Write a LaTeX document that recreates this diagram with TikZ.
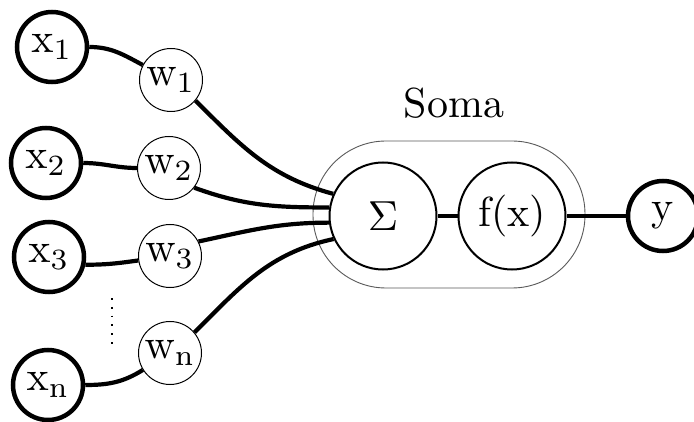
\documentclass[tikz,border=0pt]{standalone}
\usepackage{graphicx}
\newcommand{\bigt}[1]{\scalebox{4.2}{#1}}
\begin{document}
\begin{tikzpicture}[x=1pt,y=1pt,
  txt/.style={inner sep=0pt},
  inp/.style={txt, circle, draw, line width=4.5pt, minimum size=70pt},
  wgt/.style={txt, circle, draw, line width=1pt, minimum size=63pt},
  core/.style={txt, circle, draw, line width=2pt, minimum size=107pt},
  wire/.style={line width=4.2pt},
  somabox/.style={draw=black!65, line width=0.9pt, rounded corners=73pt, minimum width=272pt, minimum height=147pt, inner sep=0pt},
  vdots/.style={line width=1.8pt, dash pattern=on 1.8pt off 7pt}
]
\useasboundingbox (0,0) rectangle (694,421);
% soma
\node[somabox] (soma) at (449,206.5) {};
\node[txt] (somalabel) at (454,318) {\bigt{Soma}};
% inputs
\node[inp] (x1) at (52,374) {\bigt{$\mathrm{x}_1$}};
\node[inp] (x2) at (46,258) {\bigt{$\mathrm{x}_2$}};
\node[inp] (x3) at (49,164) {\bigt{$\mathrm{x}_3$}};
\node[inp] (xn) at (48,36) {\bigt{$\mathrm{x}_\mathrm{n}$}};
% weights
\node[wgt] (w1) at (171,341) {\bigt{$\mathrm{w}_1$}};
\node[wgt] (w2) at (169,253) {\bigt{$\mathrm{w}_2$}};
\node[wgt] (w3) at (170,165) {\bigt{$\mathrm{w}_3$}};
\node[wgt] (wn) at (170,68) {\bigt{$\mathrm{w}_\mathrm{n}$}};
% core
\node[core] (sigma) at (383,205) {\bigt{$\Sigma$}};
\node[core] (fx) at (512,205) {\bigt{f(x)}};
\node[inp] (y) at (663,205) {\bigt{y}};
% dots
\coordinate (dtop) at (112,123);
\coordinate (dbot) at (112,77);
\draw[vdots] (dtop) -- (dbot);
% connectors
\draw[wire] (x1) to[out=0,in=152] (w1);
\draw[wire] (x2) to[out=0,in=180] (w2);
\draw[wire] (x3.-12) to[out=0,in=188] (w3.188);
\draw[wire] (xn) to[out=0,in=212] (wn);
\draw[wire] (w1.-40) to[out=-45,in=165] (sigma.156);
\draw[wire] (w2.-38) to[out=-20,in=180] (sigma.171);
\draw[wire] (w3.27) to[out=12,in=180] (sigma.187);
\draw[wire] (wn.40) to[out=45,in=192] (sigma.205);
\draw[wire] (sigma) -- (fx);
\draw[wire] (fx) -- (y);
\end{tikzpicture}
\end{document}
